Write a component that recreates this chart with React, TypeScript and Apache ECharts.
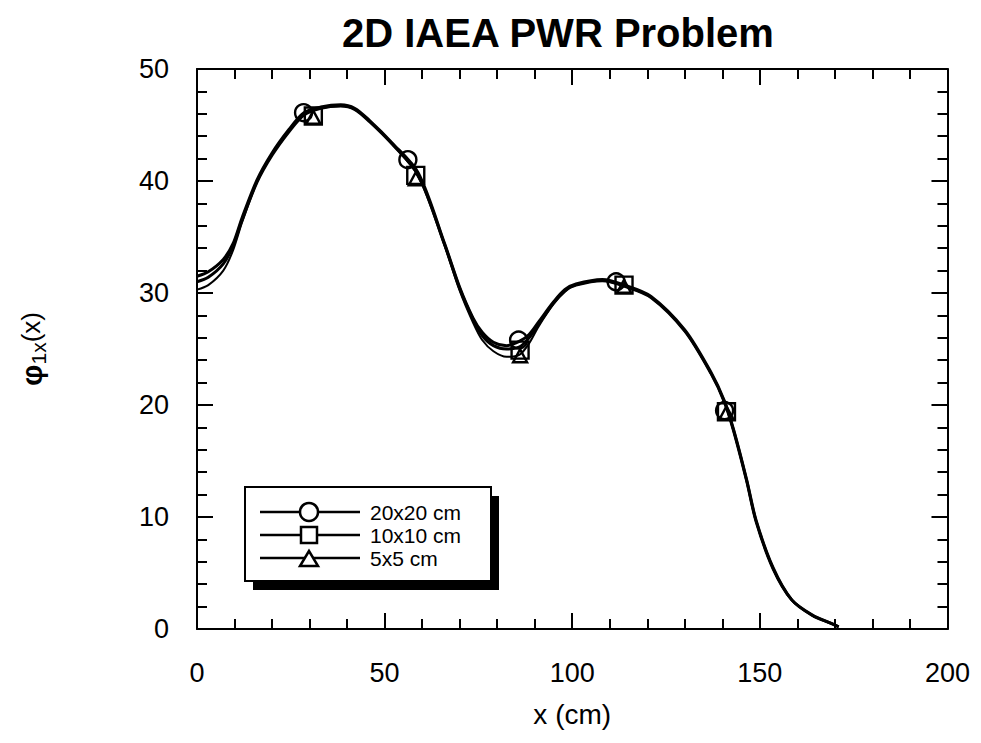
import React, { useEffect, useRef } from "react";
import * as echarts from "echarts";

const title = "2D IAEA PWR Problem";
const seriesNames = ["20x20 cm", "10x10 cm", "5x5 cm"];

// curve sample positions (cm)
const xs = [0, 3, 7, 9.6, 12, 16, 20, 24.5, 28.5, 33, 38.3, 42, 46, 52, 59, 66, 70, 73.5, 76, 79, 82.5, 86, 88.5, 91, 95, 98, 101, 108, 114, 121, 130, 137, 140.5, 143, 146.5, 149, 153.5, 158.5, 164, 169, 171];
const y20 = [31.5, 31.9, 33.0, 34.4, 36.7, 40.1, 42.5, 44.6, 46.1, 46.6, 46.8, 46.5, 45.4, 43.4, 40.7, 34.4, 30.5, 27.8, 26.5, 25.6, 25.3, 25.7, 26.3, 27.4, 29.2, 30.3, 30.8, 31.2, 30.7, 29.7, 26.7, 22.9, 20.4, 17.8, 13.3, 9.7, 5.5, 2.6, 1.25, 0.5, 0.2];
const y10 = [31.0, 31.4, 32.6, 34.2, 36.5, 39.9, 42.3, 44.4, 45.9, 46.5, 46.7, 46.4, 45.3, 43.3, 40.5, 34.3, 30.4, 27.7, 26.2, 25.3, 25.0, 25.2, 26.0, 27.2, 29.1, 30.2, 30.7, 31.1, 30.6, 29.6, 26.6, 22.8, 20.3, 17.7, 13.2, 9.6, 5.4, 2.6, 1.2, 0.5, 0.2];
const y5 = [30.3, 30.7, 32.0, 33.8, 36.3, 39.9, 42.4, 44.5, 46.0, 46.5, 46.7, 46.4, 45.3, 43.3, 40.4, 34.2, 30.2, 27.4, 25.8, 24.8, 24.3, 24.5, 25.5, 27.0, 29.0, 30.1, 30.7, 31.1, 30.6, 29.6, 26.6, 22.8, 20.3, 17.7, 13.2, 9.6, 5.4, 2.6, 1.2, 0.5, 0.2];

// marker positions
const m20x = [28.4, 56.2, 85.7, 111.7, 140.6];
const m20y = [46.1, 41.9, 25.8, 31.0, 19.5];
const m10x = [31.0, 58.3, 86.1, 113.8, 141.1];
const m10y = [45.8, 40.5, 24.9, 30.7, 19.4];
const m5x = [31.0, 58.3, 86.1, 113.8, 141.1];
const m5y = [45.7, 40.2, 24.4, 30.6, 19.3];

const xTicks = { min: 0, max: 200, interval: 50 };
const yTicks = { min: 0, max: 50, interval: 10 };

const FONT = "'Liberation Sans', Arial, Helvetica, sans-serif";

const zip = (a: number[], b: number[]) => a.map((v, i) => [v, b[i]]);

export default function App() {
  const ref = useRef<HTMLDivElement>(null);
  useEffect(() => {
    if (!ref.current) return;
    const chart = echarts.init(ref.current, null, { renderer: "svg" });
    const axisCommon = {
      type: "value" as const,
      axisLine: { show: true, onZero: false, lineStyle: { color: "#000", width: 2 } },
      axisTick: { show: true, inside: true, length: 16, lineStyle: { color: "#000", width: 2 } },
      minorTick: { show: true, splitNumber: 5, length: 10, lineStyle: { color: "#000", width: 2 } },
      splitLine: { show: false },
      minorSplitLine: { show: false },
    };
    const lineSeries = (name: string, ys: number[], w: number) => ({
      name,
      type: "line",
      data: zip(xs, ys),
      smooth: 0.3,
      showSymbol: false,
      symbol: "none",
      lineStyle: { color: "#000", width: w },
      z: 2,
    });
    const markerSeries = (name: string, mx: number[], my: number[], symbol: string, size: number | number[]) => ({
      name: name + " markers",
      type: "scatter",
      data: zip(mx, my),
      symbol,
      symbolSize: size,
      itemStyle: { color: "rgba(0,0,0,0)", borderColor: "#000", borderWidth: 2.4, opacity: 1 },
      z: 3,
    });

    // chart div sits at (8,8) because of the body margin
    const legendRows = [504, 527, 550];
    const legendGraphics: any[] = [
      { type: "rect", shape: { x: 245, y: 488, width: 246, height: 94 }, style: { fill: "#000" }, z: 10 },
      { type: "rect", shape: { x: 237, y: 479, width: 246, height: 94 }, style: { fill: "#fff", stroke: "#000", lineWidth: 2 }, z: 11 },
    ];
    seriesNames.forEach((n, i) => {
      const y = legendRows[i];
      legendGraphics.push({ type: "line", shape: { x1: 252, y1: y, x2: 352, y2: y }, style: { stroke: "#000", lineWidth: 2.5 }, z: 12 });
      if (i === 0) legendGraphics.push({ type: "circle", shape: { cx: 301, cy: y, r: 9 }, style: { fill: "#fff", stroke: "#000", lineWidth: 2.5 }, z: 13 });
      if (i === 1) legendGraphics.push({ type: "rect", shape: { x: 293, y: y - 8, width: 16, height: 16 }, style: { fill: "#fff", stroke: "#000", lineWidth: 2.5 }, z: 13 });
      if (i === 2) legendGraphics.push({ type: "polygon", shape: { points: [[301, y - 7], [292, y + 8], [310, y + 8]] }, style: { fill: "#fff", stroke: "#000", lineWidth: 2.5 }, z: 13 });
      legendGraphics.push({ type: "text", x: 362, y, style: { text: n, font: `21px ${FONT}`, fill: "#000", verticalAlign: "middle", align: "left" }, z: 13 });
    });

    chart.setOption({
      animation: false,
      backgroundColor: "#fff",
      textStyle: { fontFamily: FONT },
      title: {
        text: title,
        left: 329,
        top: 0,
        textStyle: { fontSize: 40, fontWeight: "bold", color: "#000", fontFamily: FONT },
      },
      grid: { left: 183, right: 14, top: 61, bottom: 106, containLabel: false },
      xAxis: [
        {
          ...axisCommon,
          position: "bottom",
          ...xTicks,
          axisLabel: { fontSize: 27, color: "#000", margin: 30, fontFamily: FONT },
          name: "x (cm)",
          nameLocation: "middle",
          nameGap: 71,
          nameTextStyle: { fontSize: 28, color: "#000", fontFamily: FONT },
        },
        {
          ...axisCommon,
          position: "top",
          ...xTicks,
          axisLabel: { show: false },
        },
      ],
      yAxis: [
        {
          ...axisCommon,
          position: "left",
          ...yTicks,
          axisLabel: { fontSize: 27, color: "#000", margin: 28, fontFamily: FONT },
          name: "{p|φ}{s|1x}{n|(x)}",
          nameLocation: "middle",
          nameRotate: 90,
          nameGap: 148,
          nameTextStyle: {
            color: "#000",
            rich: {
              p: { fontSize: 30, lineHeight: 36, verticalAlign: "middle", fontFamily: FONT, color: "#000", fontWeight: "bold" },
              s: { fontSize: 21, lineHeight: 21, verticalAlign: "bottom", fontFamily: FONT, color: "#000" },
              n: { fontSize: 26, lineHeight: 36, verticalAlign: "middle", fontFamily: FONT, color: "#000" },
            },
          },
        },
        {
          ...axisCommon,
          position: "right",
          ...yTicks,
          axisLabel: { show: false },
        },
      ],
      series: [
        lineSeries(seriesNames[0], y20, 3),
        lineSeries(seriesNames[1], y10, 3),
        lineSeries(seriesNames[2], y5, 2),
        markerSeries(seriesNames[0], m20x, m20y, "circle", 17),
        markerSeries(seriesNames[1], m10x, m10y, "rect", 17),
        markerSeries(seriesNames[2], m5x, m5y, "triangle", [14, 13]),
      ],
      graphic: legendGraphics,
    });
    return () => chart.dispose();
  }, []);
  return <div ref={ref} style={{ width: 965, height: 727 }} />;
}
